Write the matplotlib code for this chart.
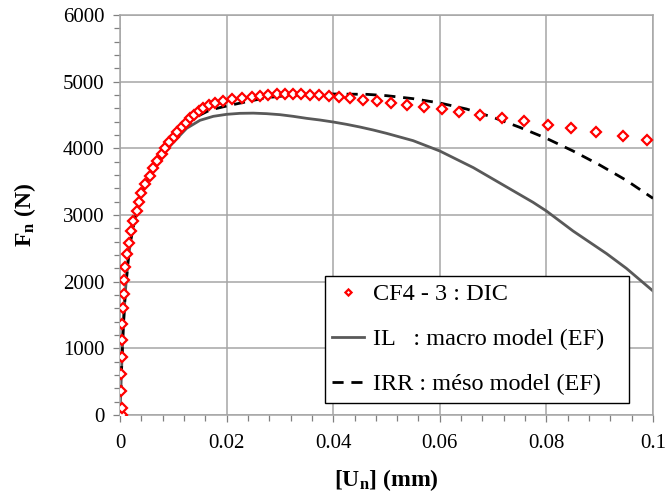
import matplotlib
matplotlib.use("Agg")
import matplotlib.pyplot as plt
from matplotlib.ticker import MultipleLocator, FixedLocator

plt.rcParams['font.family'] = ['Liberation Serif', 'DejaVu Serif']
plt.rcParams['mathtext.fontset'] = 'custom'
plt.rcParams['mathtext.rm'] = 'Liberation Serif'
plt.rcParams['mathtext.bf'] = 'Liberation Serif:bold'
plt.rcParams['mathtext.it'] = 'Liberation Serif:italic'

# DIC experimental points (CF4 - 3)
dic_u = [0.0003, 0.0003, 0.00013, 0.00013, 0.0003, 0.00043, 0.00043, 0.00062, 0.00075,
         0.0008, 0.00094, 0.00137, 0.00163, 0.00206, 0.0025, 0.0032, 0.0036,
         0.00394, 0.00469, 0.00563, 0.00625, 0.0070, 0.00782, 0.00844, 0.00925,
         0.01013, 0.01076, 0.01157, 0.01238, 0.01313, 0.01395, 0.01476, 0.01563,
         0.0167, 0.01782, 0.01939, 0.02096, 0.02283, 0.0247, 0.02627, 0.02783,
         0.0294, 0.03096, 0.03252, 0.03396, 0.03565, 0.03734, 0.03927, 0.04103,
         0.04315, 0.04565, 0.04816, 0.05078, 0.05379, 0.05709, 0.06035, 0.06354,
         0.06748, 0.07167, 0.0758, 0.08024, 0.08462, 0.0893, 0.09431, 0.09894]
dic_f = [0, 110, 365, 610, 865, 1125, 1370, 1600, 1810,
         2025, 2225, 2415, 2585, 2755, 2905, 3060, 3200,
         3335, 3460, 3590, 3700, 3815, 3915, 4010, 4100,
         4175, 4250, 4320, 4385, 4450, 4505, 4555, 4600,
         4645, 4675, 4710, 4735, 4755, 4775, 4790, 4800,
         4810, 4815, 4815, 4815, 4805, 4795, 4785, 4770,
         4750, 4730, 4705, 4680, 4650, 4620, 4585, 4545,
         4500, 4460, 4405, 4355, 4310, 4245, 4185, 4120]

# IL : macro model (EF)
il_u = [0.0, 0.0003, 0.0006, 0.001, 0.0015, 0.002, 0.003, 0.004, 0.005, 0.006,
        0.007, 0.008, 0.009, 0.010, 0.0125, 0.015, 0.0175, 0.020, 0.0225, 0.025,
        0.0275, 0.030, 0.0325, 0.035, 0.0375, 0.040, 0.0425, 0.045, 0.0475, 0.050,
        0.055, 0.060, 0.0663, 0.0719, 0.0775, 0.080, 0.085, 0.0913, 0.095, 0.100]
il_f = [0, 700, 1300, 1850, 2300, 2620, 3030, 3300, 3500, 3660,
        3790, 3900, 4000, 4090, 4300, 4420, 4480, 4510, 4525, 4528,
        4520, 4505, 4480, 4450, 4425, 4395, 4360, 4320, 4275, 4225,
        4115, 3960, 3710, 3450, 3190, 3060, 2760, 2420, 2200, 1860]

# IRR : meso model (EF)
irr_u = [0.0, 0.0003, 0.0006, 0.001, 0.0015, 0.002, 0.003, 0.004, 0.005, 0.006,
         0.007, 0.008, 0.009, 0.010, 0.0125, 0.015, 0.0169, 0.020, 0.0238, 0.0275,
         0.03125, 0.0363, 0.040, 0.0463, 0.050, 0.055, 0.060, 0.065, 0.070, 0.075,
         0.080, 0.085, 0.090, 0.095, 0.100]
irr_f = [0, 700, 1300, 1850, 2300, 2620, 3030, 3300, 3500, 3680,
         3820, 3950, 4060, 4160, 4370, 4500, 4575, 4635, 4700, 4760,
         4790, 4810, 4815, 4810, 4790, 4745, 4680, 4590, 4465, 4315,
         4150, 3960, 3750, 3520, 3250]

x_ticks = [0, 0.02, 0.04, 0.06, 0.08, 0.1]
x_tick_labels = ['0', '0.02', '0.04', '0.06', '0.08', '0.1']
y_ticks = [0, 1000, 2000, 3000, 4000, 5000, 6000]

fig = plt.figure(figsize=(6.67, 4.99), dpi=100)
ax = fig.add_axes([120/667, 1 - 415/499, (653 - 120)/667, (415 - 15)/499])

ax.plot(il_u, il_f, color='#595959', lw=2.0, label='IL   : macro model (EF)', zorder=2)
ax.plot(irr_u, irr_f, color='black', lw=2.0, dashes=(4.0, 2.8), label='IRR : méso model (EF)', zorder=3)
ax.plot(dic_u, dic_f, ls='none', marker='D', ms=5.2, mec='#ff0000', mfc='white', mew=1.6,
        label='CF4 - 3 : DIC', zorder=4)

ax.set_xlim(0, 0.1)
ax.set_ylim(0, 6000)
ax.xaxis.set_major_locator(FixedLocator(x_ticks))
ax.set_xticklabels(x_tick_labels)
ax.xaxis.set_minor_locator(MultipleLocator(0.004))
ax.yaxis.set_major_locator(FixedLocator(y_ticks))
ax.yaxis.set_minor_locator(MultipleLocator(200))

ax.grid(True, which='major', color='#a6a6a6', lw=1.1)
for s in ax.spines.values():
    s.set_color('#a6a6a6')
    s.set_linewidth(1.1)
ax.tick_params(which='both', direction='out', color='#808080', width=0.9, labelsize=15, pad=6)
ax.tick_params(which='major', length=5)
ax.tick_params(which='minor', length=4)
ax.tick_params(axis='x', pad=9)

ax.set_xlabel(r'$\mathbf{[U_n]}$ (mm)', fontsize=17, fontweight='bold', labelpad=10)
ax.set_ylabel(r'$\mathbf{F_n}$ (N)', fontsize=17, fontweight='bold', labelpad=18)

h, l = ax.get_legend_handles_labels()
order = [2, 0, 1]
leg = ax.legend([h[i] for i in order], [l[i] for i in order],
                loc='lower left', bbox_to_anchor=(0.385, 0.031, 0.57, 0.315), mode='expand',
                fontsize=17.5, frameon=True, fancybox=False, edgecolor='black', framealpha=1,
                markerscale=0.6, handlelength=1.3, handletextpad=0.35, borderpad=0.3,
                labelspacing=0.95, borderaxespad=0)
leg.get_frame().set_linewidth(1.0)

fig.savefig('out.png', dpi=100)
